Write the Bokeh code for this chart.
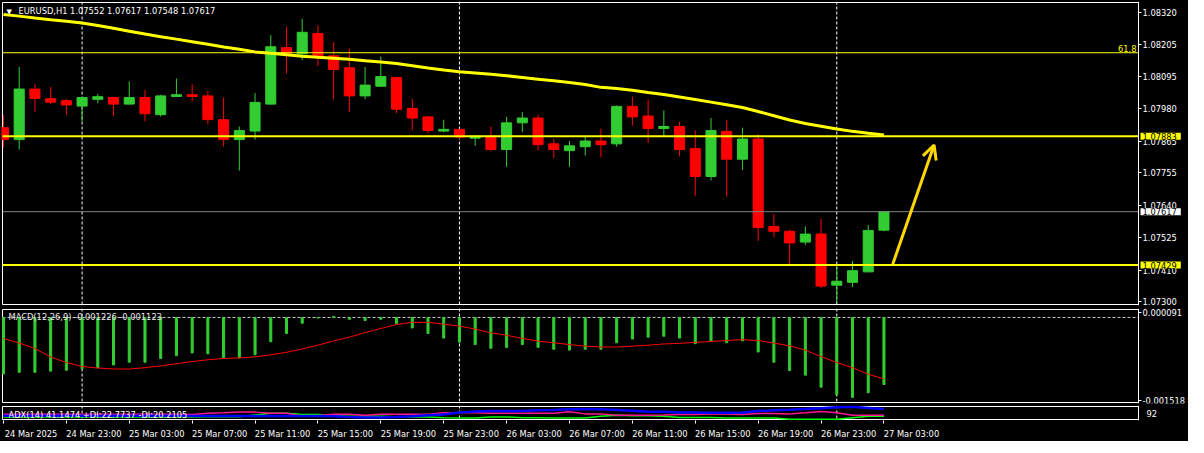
from bokeh.plotting import figure
from bokeh.layouts import column
from bokeh.models import (Range1d, FixedTicker, Span, Label, Arrow, OpenHead,
                          ColumnDataSource, PrintfTickFormatter, LinearAxis)
from bokeh.embed import file_html
from bokeh.resources import INLINE

# ---------------- data ----------------
symbol_title = "EURUSD,H1  1.07552 1.07617 1.07548 1.07617"
macd_title = "MACD(12,26,9) -0.001226 -0.001123"
adx_title = "ADX(14) 41.1474 +DI:22.7737 -DI:20.2105"

bars = list(range(57))  # 24 Mar 19:00 ... 27 Mar 03:00 (H1)

opens = [1.07913, 1.07871, 1.08049, 1.08015, 1.08008, 1.07989, 1.08013, 1.08019, 1.07996, 1.08019,
         1.07959, 1.08023, 1.08029, 1.08025, 1.07941, 1.07871, 1.07901, 1.07996, 1.08195, 1.08173,
         1.08245, 1.08166, 1.08124, 1.08025, 1.08059, 1.08090, 1.07981, 1.07951, 1.07901, 1.07907,
         1.07876, 1.07883, 1.07836, 1.07930, 1.07947, 1.07856, 1.07832, 1.07846, 1.07866, 1.07856,
         1.07988, 1.07954, 1.07910, 1.07917, 1.07839, 1.07741, 1.07900, 1.07802, 1.07873, 1.07565,
         1.07548, 1.07510, 1.07538, 1.07358, 1.07368, 1.07405, 1.07552]
highs = [1.07958, 1.08127, 1.08066, 1.08056, 1.08015, 1.08021, 1.08032, 1.08022, 1.08076, 1.08046,
         1.08029, 1.08086, 1.08066, 1.08042, 1.08019, 1.07917, 1.08035, 1.08239, 1.08269, 1.08296,
         1.08273, 1.08215, 1.08191, 1.08127, 1.08164, 1.08091, 1.08015, 1.07954, 1.07941, 1.07908,
         1.07884, 1.07917, 1.07951, 1.07968, 1.07958, 1.07873, 1.07866, 1.07880, 1.07910, 1.07991,
         1.08022, 1.08012, 1.07974, 1.07934, 1.07903, 1.07947, 1.07941, 1.07913, 1.07890, 1.07609,
         1.07554, 1.07565, 1.07592, 1.07433, 1.07443, 1.07571, 1.07617]
lows = [1.07843, 1.07836, 1.07969, 1.07997, 1.07959, 1.07935, 1.07999, 1.07954, 1.07995, 1.07935,
        1.07952, 1.08022, 1.08006, 1.07925, 1.07846, 1.07762, 1.07871, 1.07993, 1.08104, 1.08151,
        1.08130, 1.08013, 1.07969, 1.08013, 1.08056, 1.07964, 1.07903, 1.07894, 1.07897, 1.07873,
        1.07849, 1.07829, 1.07775, 1.07897, 1.07832, 1.07805, 1.07775, 1.07815, 1.07808, 1.07846,
        1.07920, 1.07859, 1.07880, 1.07812, 1.07673, 1.07727, 1.07670, 1.07764, 1.07514, 1.07527,
        1.07433, 1.07500, 1.07348, 1.07299, 1.07351, 1.07404, 1.07548]
closes = [1.07871, 1.08049, 1.08016, 1.08003, 1.07993, 1.08019, 1.08022, 1.07996, 1.08019, 1.07962,
          1.08025, 1.08029, 1.08023, 1.07942, 1.07871, 1.07903, 1.08002, 1.08198, 1.08173, 1.08249,
          1.08161, 1.08118, 1.08025, 1.08063, 1.08093, 1.07978, 1.07947, 1.07903, 1.07907, 1.07880,
          1.07883, 1.07836, 1.07930, 1.07947, 1.07853, 1.07836, 1.07849, 1.07866, 1.07853, 1.07988,
          1.07951, 1.07910, 1.07917, 1.07836, 1.07741, 1.07903, 1.07802, 1.07873, 1.07561, 1.07548,
          1.07507, 1.07538, 1.07355, 1.07372, 1.07409, 1.07551, 1.07617]

moving_avg = [1.08312, 1.08306, 1.08299, 1.08293, 1.08288, 1.08282, 1.08273, 1.08263, 1.08253, 1.08243,
              1.08233, 1.08225, 1.08216, 1.08207, 1.08197, 1.08189, 1.08180, 1.08175, 1.08170, 1.08165,
              1.08161, 1.08158, 1.08154, 1.08149, 1.08144, 1.08139, 1.08131, 1.08123, 1.08116, 1.08110,
              1.08106, 1.08101, 1.08096, 1.08090, 1.08084, 1.08078, 1.08072, 1.08065, 1.08055, 1.08051,
              1.08045, 1.08037, 1.08030, 1.08021, 1.08012, 1.08003, 1.07994, 1.07984, 1.07970, 1.07955,
              1.07940, 1.07928, 1.07918, 1.07908, 1.07900, 1.07893, 1.07887]

fib_level = 1.08177
fib_text = "61.8"
resistance_level = 1.07883
support_level = 1.07429
bid_level = 1.07617
price_ticks = [1.08320, 1.08205, 1.08095, 1.07980, 1.07865, 1.07755, 1.07640, 1.07525, 1.07410, 1.07300]

arrow_x = [56.56, 59.19]
arrow_y = [1.07432, 1.07852]

separator_bars = [5, 29, 53]

macd_main = [-0.001032, -0.001004, -0.001004, -0.000981, -0.000965, -0.000936, -0.000919, -0.000869, -0.000818, -0.000818,
             -0.000750, -0.000699, -0.000648, -0.000665, -0.000733, -0.000739, -0.000682, -0.000445, -0.000293, -0.000106,
             -0.000010, 0.000020, -0.000033, -0.000055, -0.000033, -0.000112, -0.000191, -0.000293, -0.000377, -0.000451,
             -0.000496, -0.000564, -0.000547, -0.000496, -0.000547, -0.000581, -0.000597, -0.000581, -0.000581, -0.000462,
             -0.000394, -0.000360, -0.000343, -0.000377, -0.000479, -0.000428, -0.000462, -0.000428, -0.000631, -0.000818,
             -0.000970, -0.001055, -0.001275, -0.001411, -0.001461, -0.001377, -0.001226]
macd_signal = [-0.000383, -0.000468, -0.000569, -0.000722, -0.000823, -0.000897, -0.000925, -0.000942, -0.000942, -0.000919,
               -0.000885, -0.000846, -0.000806, -0.000773, -0.000750, -0.000739, -0.000722, -0.000682, -0.000637, -0.000575,
               -0.000507, -0.000428, -0.000360, -0.000276, -0.000202, -0.000129, -0.000089, -0.000089, -0.000123, -0.000157,
               -0.000213, -0.000281, -0.000326, -0.000383, -0.000434, -0.000462, -0.000496, -0.000524, -0.000541, -0.000541,
               -0.000524, -0.000507, -0.000485, -0.000473, -0.000456, -0.000439, -0.000422, -0.000405, -0.000422, -0.000468,
               -0.000518, -0.000597, -0.000716, -0.000823, -0.000919, -0.001038, -0.001123]
macd_max_label = 0.000091
macd_min_label = -0.001518

adx_main = [21.0] * 12 + [19.9] * 9 + [18.9, 16.8, 15.7, 15.7, 16.8, 18.9, 22.1,
            24.2, 30.5, 33.7, 34.8, 34.8, 34.8, 36.9, 38.0, 40.1, 41.2, 40.1, 38.0, 35.9, 32.7, 32.7,
            30.5, 30.5, 29.5, 29.5, 30.5, 34.8, 36.9, 39.0, 41.2, 43.3, 46.4, 47.5, 44.3, 41.1]
minus_di = [25.2] * 12 + [24.2, 28.4, 29.5, 31.6, 31.6, 28.4, 28.4, 18.9, 21.0, 25.2, 25.2, 22.1,
            25.2, 25.2, 25.2, 25.2, 29.5, 29.5, 29.5, 28.4, 28.4, 28.4, 28.4, 28.4, 32.7, 26.3, 26.3,
            22.1, 22.1, 22.1, 23.1, 24.2, 24.2, 26.3, 26.3, 24.2, 27.4, 27.4, 26.3, 29.5, 33.7, 29.5,
            22.1, 22.1, 22.1]
plus_di = [16.8] * 13 + [17.8, 17.8, 17.8, 23.1, 28.4, 28.4, 24.2, 24.2, 21.0, 18.9, 18.9, 18.9,
           17.8, 16.8, 16.8, 14.7, 13.6, 13.6, 16.8, 16.8, 14.7, 14.7, 13.6, 13.6, 13.6, 18.9, 22.1,
           21.0, 21.0, 18.9, 15.7, 15.7, 15.7, 13.6, 13.6, 13.6, 13.6, 10.4, 10.4, 10.4, 10.4, 14.7,
           18.9, 18.9]
adx_scale_label = "92"

tick_bars = [0, 4, 8, 12, 16, 20, 24, 28, 32, 36, 40, 44, 48, 52, 56]
tick_labels = ["24 Mar 2025", "24 Mar 23:00", "25 Mar 03:00", "25 Mar 07:00", "25 Mar 11:00",
               "25 Mar 15:00", "25 Mar 19:00", "25 Mar 23:00", "26 Mar 03:00", "26 Mar 07:00",
               "26 Mar 11:00", "26 Mar 15:00", "26 Mar 19:00", "26 Mar 23:00", "27 Mar 03:00"]

# ---------------- view / styling ----------------
FONT = "DejaVu Sans"
FS = "8.3px"
UP = "#32CD32"
DOWN = "#FF0000"
YELLOW = "#FFFF00"

XL, XE = -0.0625, 72.19     # visible bar window (left / right chart edge)
CW = 1136                   # chart pixel width
AXW = 50                    # price-scale strip width (inside the frame)
PPB = CW / (XE - XL)
FRAME_W = 1 + CW + AXW
xr = Range1d(XL - 1 / PPB, XE + AXW / PPB)


def make_fig(inner_h, lo, hi, top, bottom):
    dy = (hi - lo) / inner_h
    p = figure(frame_width=FRAME_W, frame_height=inner_h + 2, x_range=xr,
               y_range=Range1d(lo - dy, hi + dy),
               output_backend="svg", toolbar_location=None,
               x_axis_location=None, y_axis_location=None,
               min_border_left=1, min_border_right=0, min_border_top=top,
               min_border_bottom=bottom, background_fill_color="black",
               border_fill_color="black", outline_line_color=None)
    p.grid.visible = False
    for b in separator_bars:
        p.add_layout(Span(location=b, dimension="height", line_color="white",
                          line_width=1, line_dash="3 2", level="underlay"))
    p.quad(left=XL, right=XE, bottom=lo, top=hi, fill_color=None,
           line_color="white", line_width=1)
    return p


def price_axis(p, ticks, fmt):
    ax = LinearAxis(fixed_location=XE, ticker=FixedTicker(ticks=ticks),
                    formatter=PrintfTickFormatter(format=fmt))
    ax.axis_line_color = "white"
    ax.major_tick_line_color = "white"
    ax.major_tick_out = 3
    ax.major_tick_in = 0
    ax.minor_tick_line_color = None
    ax.major_label_text_color = "white"
    ax.major_label_text_font = FONT
    ax.major_label_text_font_size = FS
    ax.major_label_standoff = 1
    p.add_layout(ax, "right")
    return ax


def price_tag(lvl, bg):
    kw = dict(x=XE, y=lvl, x_offset=2, text="%.5f" % lvl, text_color="black",
              text_font=FONT, text_font_size=FS, text_align="left",
              text_baseline="middle", background_fill_color=bg)
    try:
        return Label(padding=dict(left=2, right=4, top=0, bottom=0), **kw)
    except Exception:
        return Label(padding=2, **kw)


# ---------------- main price pane ----------------
p1 = make_fig(302, 1.07290, 1.08354, 1, 1)
price_axis(p1, price_ticks, "%.5f")

colors = [UP if c >= o else DOWN for o, c in zip(opens, closes)]
src = ColumnDataSource(dict(x=bars, h=highs, l=lows,
                            top=[max(o, c) for o, c in zip(opens, closes)],
                            bot=[min(o, c) for o, c in zip(opens, closes)],
                            color=colors))
p1.segment(x0="x", y0="l", x1="x", y1="h", line_color="color", line_width=1, source=src)
p1.vbar(x="x", width=0.64, top="top", bottom="bot", fill_color="color",
        line_color="color", source=src)
p1.line(bars, moving_avg, line_color=YELLOW, line_width=3)

for lvl, col, w in [(fib_level, YELLOW, 1), (bid_level, "#808080", 1),
                    (resistance_level, YELLOW, 2), (support_level, YELLOW, 2)]:
    p1.segment(x0=[XL], x1=[XE], y0=[lvl], y1=[lvl], line_color=col, line_width=w)

p1.add_layout(Arrow(x_start=arrow_x[0], y_start=arrow_y[0], x_end=arrow_x[1], y_end=arrow_y[1],
                    line_color="#FFD700", line_width=3,
                    end=OpenHead(size=14, line_color="#FFD700", line_width=3)))

p1.add_layout(Label(x=XE, y=fib_level, x_offset=-2, y_offset=1, text=fib_text,
                    text_color=YELLOW, text_font=FONT, text_font_size=FS,
                    text_align="right", text_baseline="bottom"))

for lvl, bg in [(resistance_level, YELLOW), (bid_level, "white"), (support_level, YELLOW)]:
    p1.add_layout(price_tag(lvl, bg))

p1.add_layout(Label(x=5, y=304 - 10, x_units="screen", y_units="screen", text="▼",
                    text_color="white", text_font="DejaVu Sans", text_font_size="7px",
                    text_align="left", text_baseline="middle"))
p1.add_layout(Label(x=17, y=304 - 9, x_units="screen", y_units="screen", text=symbol_title,
                    text_color="white", text_font=FONT, text_font_size=FS,
                    text_align="left", text_baseline="middle"))

# ---------------- MACD pane ----------------
p2 = make_fig(93, -0.001555, 0.000146, 2, 2)
price_axis(p2, [macd_max_label, macd_min_label], "%.6f")
p2.segment(x0=[XL], x1=[XE], y0=[0], y1=[0], line_color="#C8C8C8", line_width=1,
           line_dash="3 2")
p2.vbar(x=bars, width=0.13, top=macd_main, bottom=0, fill_color=UP, line_color=UP)
p2.line(bars, macd_signal, line_color=DOWN, line_width=1)
p2.add_layout(Label(x=7, y=95 - 8, x_units="screen", y_units="screen", text=macd_title,
                    text_color="#E8E8E8", text_font=FONT, text_font_size=FS,
                    text_align="left", text_baseline="middle"))

# ---------------- ADX pane ----------------
p3 = make_fig(13, 9.3, 48.6, 0, 17)
price_axis(p3, [], "%.0f")
p3.line(bars, plus_di, line_color="#00FF00", line_width=1.5)
p3.line(bars, minus_di, line_color="#FF1493", line_width=1.5)
p3.line(bars, adx_main, line_color="#0000FF", line_width=2.5)
p3.add_layout(Label(x=7, y=6, x_units="screen", y_units="screen", text=adx_title,
                    text_color="white", text_font=FONT, text_font_size=FS,
                    text_align="left", text_baseline="middle"))
p3.add_layout(Label(x=XE, y=7, x_offset=8, y_units="screen", text=adx_scale_label,
                    text_color="white", text_font=FONT, text_font_size=FS,
                    text_align="left", text_baseline="middle"))

SHIFT = 1.75  # terminal labels start at their tick
major = [b + SHIFT for b in tick_bars]
xa = LinearAxis(ticker=FixedTicker(ticks=major, minor_ticks=tick_bars))
xa.major_label_overrides = {m: t for m, t in zip(major, tick_labels)}
xa.axis_line_color = None
xa.major_tick_line_color = None
xa.minor_tick_line_color = "white"
xa.minor_tick_out = 3
xa.minor_tick_in = 0
xa.major_label_text_color = "white"
xa.major_label_text_font = FONT
xa.major_label_text_font_size = FS
xa.major_label_standoff = 2
p3.add_layout(xa, "below")

layout = column(p1, p2, p3, spacing=0, styles={"background-color": "black"})
open("out.html", "w").write(file_html(layout, INLINE))
